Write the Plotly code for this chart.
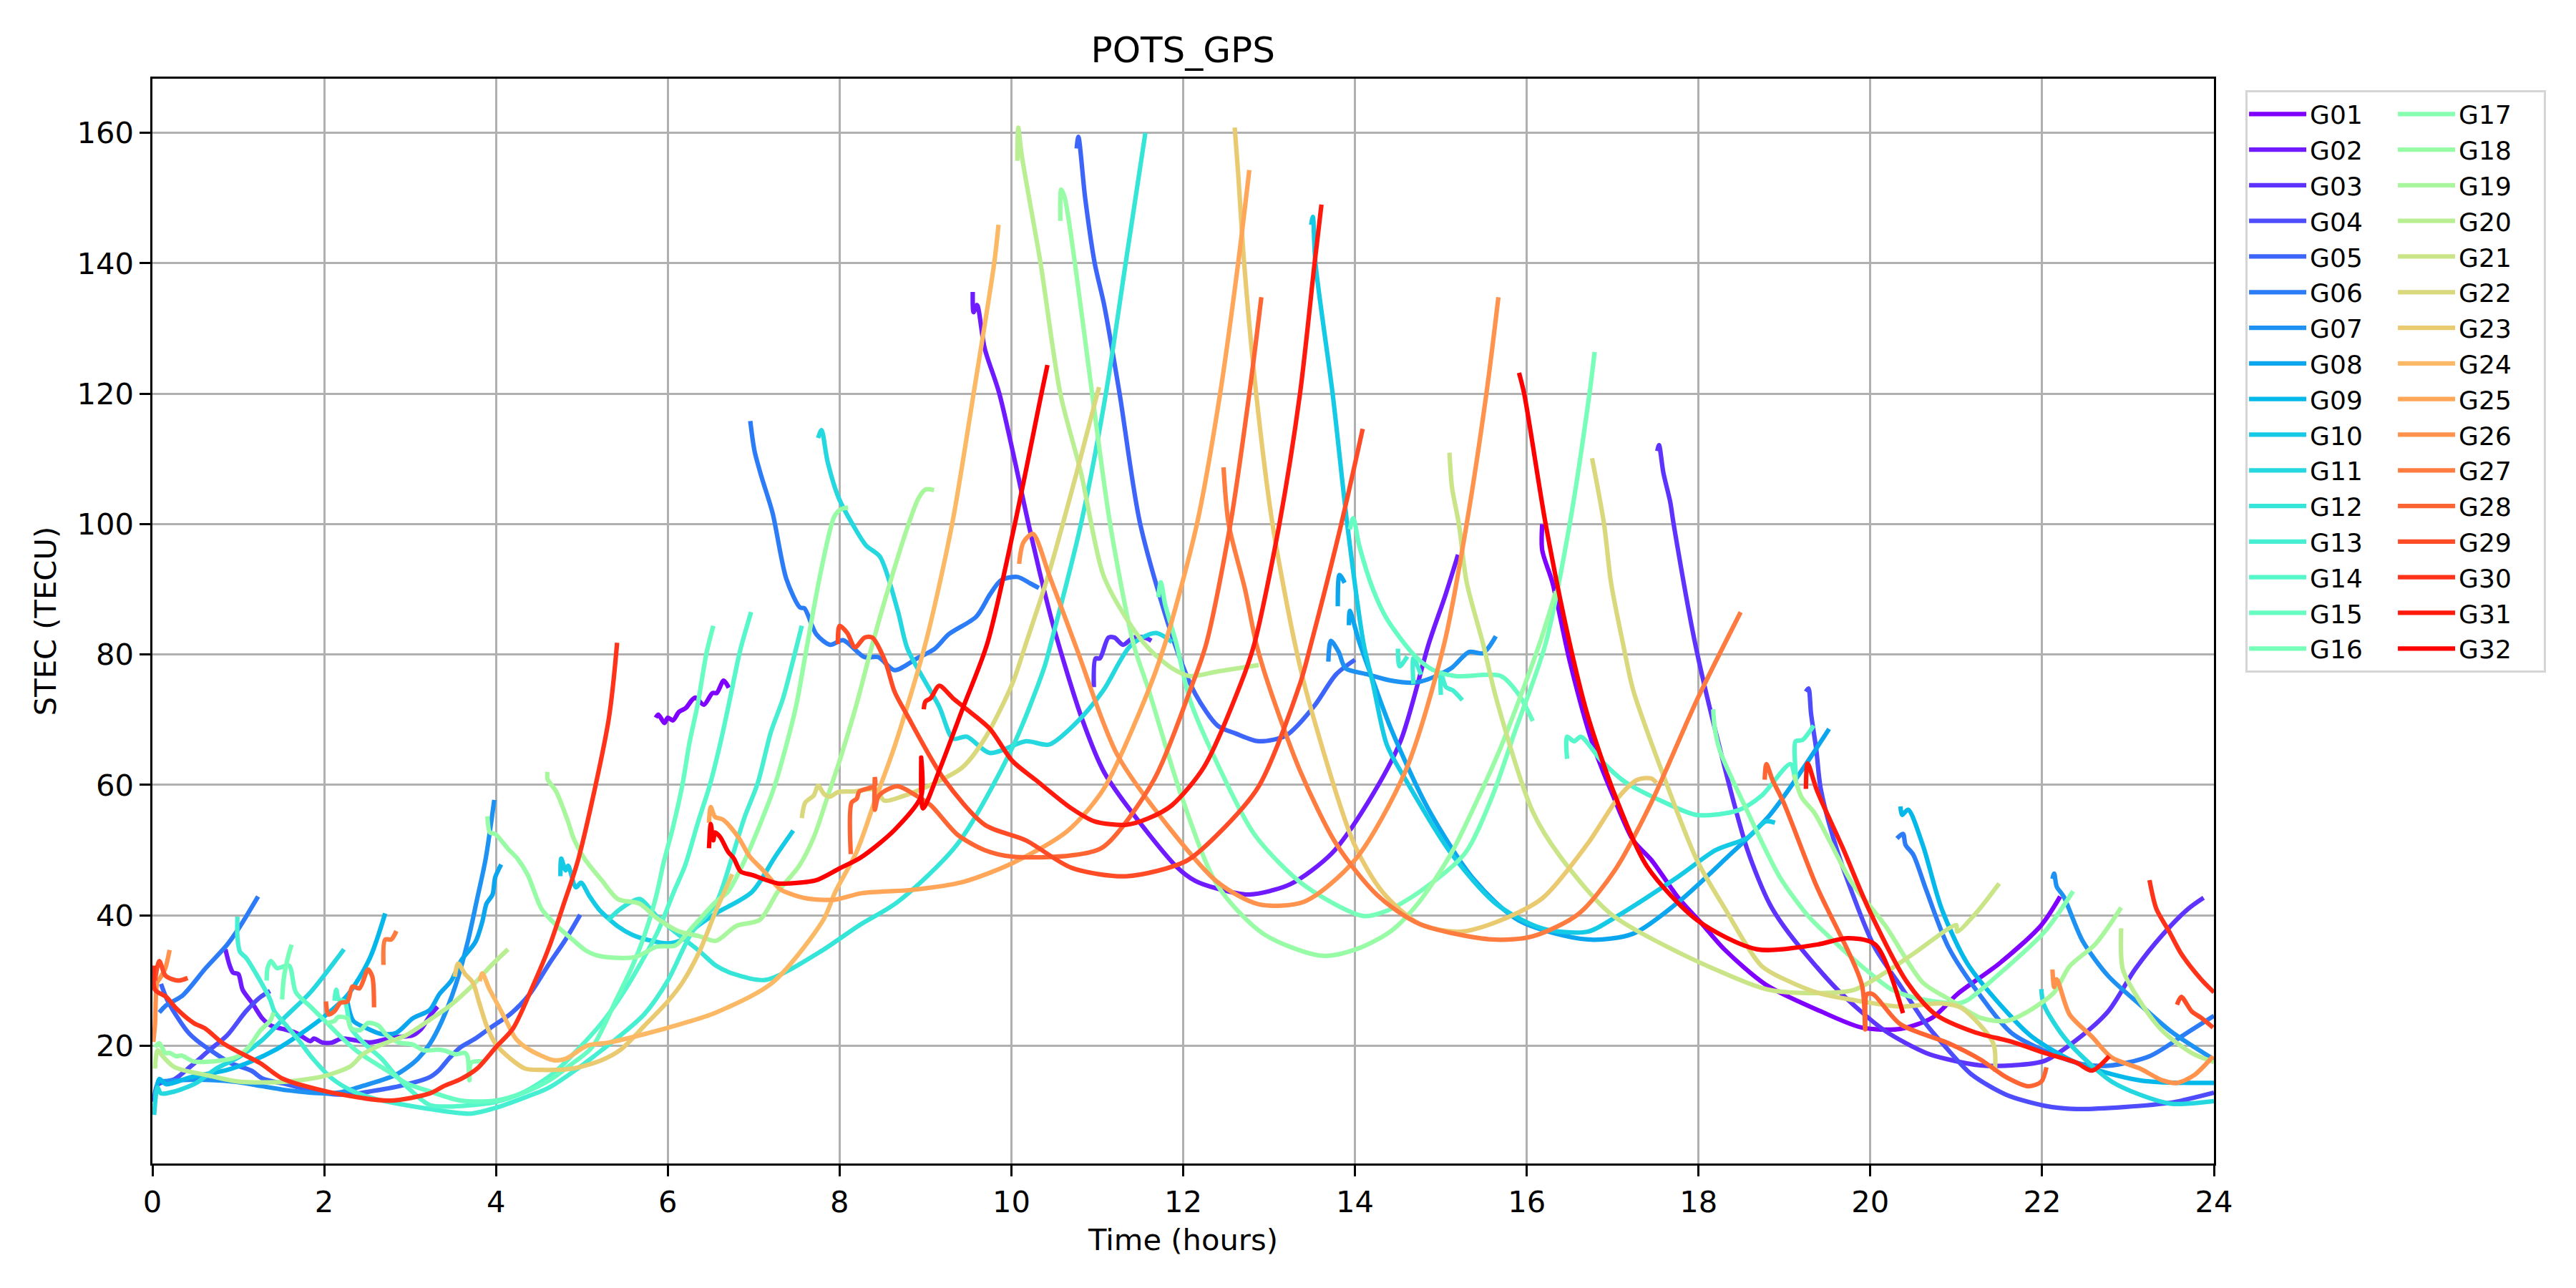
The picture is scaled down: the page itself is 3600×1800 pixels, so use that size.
import plotly.graph_objects as go
import math

# Each list holds (time in hours, STEC in TECU); None separates arcs.
G01 = [(5.86,70.3),(5.89,70.8),(5.96,69.5),(6.0,70.3),(6.06,69.9),(6.13,71.2),(6.21,71.8),(6.28,73),(6.32,73.4),(6.42,72.3),(6.52,74.1),(6.57,74.1),(6.65,76),(6.71,74.9),None,
 (16.18,100),(16.18,96),(16.3,91),(16.5,79),(16.75,67),(17.0,58.5),(17.24,51.5),(17.45,48.5),(17.77,42.6),(18.04,38.7),(18.3,34.8),(18.78,29.4),(19.42,25.3),(19.9,22.8),(20.35,22.6),(20.72,24.3),(21.02,28),(21.5,32.6),(21.99,38.5),(22.21,42.9)]
G02 = [(0.85,34.8),(0.9,32.3),(0.94,31.2),(1,31),(1.05,28.6),(1.17,26.4),(1.28,24.2),(1.38,23.1),(1.51,22.6),(1.67,22),(1.84,20.7),(1.88,21.1),(1.98,20.5),(2.09,20.5),(2.2,21.1),(2.34,20.9),(2.53,20.5),(2.81,21.3),(3.03,21.6),(3.13,22.6),(3.23,24.6),(3.32,26),None,
 (9.55,135.6),(9.56,132.5),(9.6,133.6),(9.69,126.9),(9.86,120),(10.2,100),(10.33,92.6),(10.49,84.3),(10.81,70.6),(11.07,62.2),(11.34,56.9),(11.92,47.5),(12.14,45.3),(12.4,44.1),(12.77,43.2),(13.25,44.8),(13.73,49.5),(14.15,57.3),(14.53,66.7),(14.86,81.7),(15.05,89),(15.2,95.3)]
G03 = [(10.96,75),(10.98,79.4),(11.03,79.4),(11.13,82.6),(11.2,82.6),(11.3,81.5),(11.42,82.6),(11.55,82.6),(11.63,82.1),None,
 (17.52,111.2),(17.54,112.1),(17.59,107.9),(17.67,103.4),(17.71,100),(17.96,81.7),(18.2,68.1),(18.57,50),(18.83,41.7),(19.05,37.3),(19.61,28.7),(20.17,22.3),(20.65,18.9),(20.91,17.9),(21.28,17),(21.65,17),(22.03,17.7),(22.4,20.9),(22.77,25.3),(23.08,31.7),(23.4,37),(23.7,41),(23.88,42.7)]
G04 = [(0.02,11.4),(0.06,14),(0.26,14.9),(0.45,16.9),(0.67,19.4),(0.87,21.6),(1.09,25.3),(1.26,27.5),(1.37,28.4),None,
 (19.25,74.3),(19.28,74.8),(19.31,70.9),(19.37,65.5),(19.42,59.6),(19.57,51.8),(19.79,43.4),(20.05,35.1),(20.35,29.2),(20.65,23.3),(20.87,19.9),(21.17,15.7),(21.58,12.5),(22.03,10.8),(22.4,10.3),(22.95,10.6),(23.51,11.3),(24,12.8)]
G05 = [(0.1,29.5),(0.17,27.1),(0.28,24.6),(0.42,22),(0.51,20.9),(0.7,19.1),(0.92,17.3),(1.15,16.2),(1.28,15),(1.56,14.1),(2.01,12.7),(2.26,12.5),(2.53,13),(2.87,13.8),(3.23,15.2),(3.34,16.3),(3.45,18),(3.59,19.8),(3.76,21.1),(3.95,22.9),(4.17,24.9),(4.39,27.9),(4.62,32.6),(4.81,36.3),(4.98,40.1),None,
 (10.76,157.6),(10.78,159.4),(10.86,149.9),(10.97,140),(11.08,133.6),(11.26,120),(11.5,100),(11.9,81.7),(12.14,74),(12.4,69.1),(12.61,67.9),(12.88,66.7),(13.2,67.6),(13.52,72),(13.78,76.95),(14,79.2)]
G06 = [(0.08,25.1),(0.16,26.2),(0.35,27.7),(0.62,31.9),(0.87,35.5),(1.01,38.1),(1.23,42.9),None,
 (6.96,115.8),(7.01,111.2),(7.09,107.3),(7.22,101.7),(7.38,91.6),(7.54,87.2),(7.59,87.1),(7.73,83.1),(7.89,81.5),(8.04,82.2),(8.29,79.6),(8.45,79.6),(8.64,77.6),(8.9,79.4),(9.11,80.9),(9.27,83.1),(9.59,85.8),(9.75,89.2),(9.88,91.4),(10.07,91.9),(10.22,90.9),(10.32,90.2),None,
 (20.31,51.8),(20.38,52.5),(20.41,50.8),(20.5,49.3),(20.65,43.9),(20.91,35.1),(21.28,27.7),(21.65,21.9),(22.4,17.4),(22.77,16.95),(23.25,18.4),(23.7,22.1),(24,24.6)]
G07 = [(0.05,14.5),(0.5,14.8),(0.95,14.5),(1.28,13.8),(1.56,13.2),(2.01,12.7),(2.2,12.9),(2.39,13.6),(2.81,15.4),(2.95,16.5),(3.09,18),(3.23,20.3),(3.37,23.8),(3.53,29.3),(3.67,35.9),(3.78,42.5),(3.88,48.7),(3.98,57.7),None,
 (13.69,78.9),(13.72,82.1),(13.81,80.4),(13.89,77.9),(14.15,76.95),(14.42,76),(14.69,75.7),(14.85,76.2),(15.12,77.9),(15.33,80.4),(15.49,80.2),(15.64,82.8),None,
 (22.12,45.6),(22.14,46.4),(22.17,44.4),(22.25,42.9),(22.47,36.1),(22.77,30.7),(23.14,26.3),(23.51,22.1),(24,17.9)]
G08 = [(2.27,26.8),(2.34,23.8),(2.51,22.6),(2.67,21.8),(2.84,22),(3.03,24.2),(3.23,25.5),(3.34,27.9),(3.48,30),(3.59,33),(3.76,35.9),(3.84,39),(3.89,41.8),(3.96,43.2),(3.99,45.8),(4.06,47.8),None,
 (13.8,87.4),(13.82,92.2),(13.88,91),None,
 (13.93,84.5),(13.94,86.7),(14.05,81.9),(14.21,76),(14.42,68.6),(14.85,56.4),(15.38,45.6),(15.91,39.2),(16.71,36.3),(17.24,37.2),(17.77,42.1),(18.3,48.5),(18.83,55.4),(19.52,68.6)]
G09 = [(0.03,12),(0.08,14.9),(0.16,14.1),(0.45,15.2),(0.87,16.3),(1.15,17.6),(1.45,19.5),(1.7,21.6),(2.01,24.6),(2.28,27.9),(2.53,33.4),(2.71,40.3),None,
 (20.35,56.7),(20.37,55.4),(20.44,56.2),(20.61,50.8),(20.83,41),(21.13,32.6),(21.58,25.3),(21.88,21.4),(22.4,17.4),(23.14,14.7),(24,14.3)]
G10 = [(4.75,46),(4.76,48.7),(4.81,46.9),(4.84,47.6),(4.93,44.3),(4.99,45),(5.09,42.9),(5.2,40.9),(5.42,38.3),(5.59,37),(5.81,36.1),(6,35.7),(6.17,36.3),(6.34,38.3),(6.56,40.3),(6.98,43.6),(7.25,49),(7.46,53),None,
 (13.49,145.9),(13.51,147.1),(13.54,140),(13.74,120),(13.91,100),(14.1,81.7),(14.21,75.5),(14.37,66.2),(14.59,60.8),(15.12,49.5),(15.65,41.7),(16.18,38),(16.71,37.5),(17.03,39.7),(17.77,46),(18.2,50),(18.57,51.9),(18.78,54.4),(18.89,54.2)]
G11 = [(0.02,9.4),(0.06,13.6),(0.1,12.7),(0.26,13),(0.51,14.3),(0.73,16.4),(1.01,18.3),(1.28,20.9),(1.56,24.6),(1.84,28.2),(2.23,34.8),None,
 (7.75,113.2),(7.79,114.4),(7.86,109.6),(7.99,104),(8.15,100),(8.31,96.7),(8.47,95),(8.68,86.6),(8.79,80.9),(9.16,72),(9.32,67.1),(9.48,67.4),(9.75,64.9),(10.17,66.7),(10.44,66.2),(10.76,69.6),(11.07,74.5),(11.39,81.4),(11.68,83.3),(11.87,81.9),None,
 (21.99,28.7),(22.02,26.3),(22.25,21.4),(22.58,16.95),(22.81,14.5),(23.14,12.5),(23.51,11.1),(24,11.5)]
G12 = [(5.3,39.2),(5.45,41),(5.67,42.5),(5.87,39.9),(6.09,37.4),(6.37,34.5),(6.56,32.3),(6.75,31.1),(7.14,30.1),(7.76,34.3),(8.22,38.4),(8.68,42.1),(9.37,50.9),(10.01,65.7),(10.38,77.9),(10.46,81.7),(10.81,100),(11.1,120),(11.33,140),(11.56,160)]
G13 = [(0.99,39.8),(0.99,36.6),(1.02,34.4),(1.09,33.5),(1.2,31.2),(1.37,27.1),(1.42,25.3),(1.56,23.1),(1.7,20.9),(1.87,18),(2.09,15),(2.34,13),(2.67,11.6),(2.95,10.9),(3.23,10.3),(3.7,9.6),(4,10.5),(4.34,12.1),(4.62,13.6),(4.95,16.5),(5.17,18.7),(5.45,21.6),(5.73,24.9),(6,30),(6.28,37.4),(6.56,41.8),(6.75,49),(6.89,54.9),(7.05,60.4),(7.2,68.1),(7.34,73.2),(7.48,80.2),(7.56,84.4),None,
 (14.5,80.9),(14.52,78.2),(14.61,79.7),None,(14.68,75.5),(14.68,79.4),(14.77,76.9),None,(15,73.8),(15,77.2),(15.06,75),(15.14,74.5),(15.25,73)]
G14 = [(2.12,26.9),(2.14,28.6),(2.17,27.1),(2.24,26.8),(2.31,22.7),(2.48,20.2),(2.67,18),(2.81,15.8),(3.03,12.9),(3.23,10.9),(3.5,10.7),(4,11.4),(4.34,13),(4.67,15.8),(4.95,19.4),(5.23,23.5),(5.45,27.5),(5.67,32.3),(5.89,37.7),(6.07,43.6),(6.2,47.6),(6.35,54.2),(6.49,60),(6.61,66.3),(6.73,73.6),(6.84,80.5),(6.97,86.5),None,
 (16.47,64),(16.47,67.4),(16.55,66.7),(16.63,67.4),(16.87,63.7),(17.14,60.5),(17.56,57.6),(17.98,55.4),(18.46,56.1),(18.73,58.3),(19.07,63.2),(19.13,60.8),(19.13,66.7),(19.21,66.9),(19.34,69.1)]
G15 = [(1.33,30),(1.34,31.9),(1.38,33),(1.45,31.9),(1.59,32.3),(1.67,28.2),(1.84,26),(2.01,23.8),(2.2,21.3),(2.39,19.1),(2.56,17.6),(2.78,15.8),(2.95,14.3),(3.23,13),(3.59,11.6),(4,11.6),(4.34,12.9),(4.62,14.7),(4.89,17.3),(5.12,19.8),(5.39,26.8),(5.59,32.3),(5.73,37),(5.87,43.2),(5.95,48),(6.06,53.5),(6.17,60),(6.25,66.3),(6.35,72.5),(6.45,80.2),(6.53,84.4),None,
 (13.94,99.2),(13.98,100.9),(14.05,96.7),(14.21,90),(14.37,85.5),(14.69,79.9),(14.9,77.7),(15.17,76.7),(15.7,76.7),(15.91,73.8),(16.07,69.8)]
G16 = [(1.51,27.1),(1.53,30.4),(1.58,33.7),(1.62,35.5),None,
 (11.71,88.8),(11.74,91.1),(11.79,87.7),(11.92,81.7),(12.08,73),(12.4,63.2),(12.83,52.4),(13.41,44.6),(14.1,39.9),(14.37,40.7),(14.75,43.6),(15.28,49.5),(15.6,58.3),(15.86,68.1),(16.22,81.7),(16.5,100),(16.73,120),(16.79,126.4)]
G17 = [(2.03,23.5),(2.12,23.8),(2.16,24.4),(2.27,24.2),(2.31,22.7),(2.42,22.4),(2.51,23.5),(2.63,23.1),(2.73,21.6),(2.87,20.5),(3.03,20.2),(3.16,19.3),(3.31,19.4),(3.39,19.3),(3.53,18.7),(3.64,18.9),(3.67,18.3),(3.69,14.7),(3.71,17.4),(3.84,17.6),None,
 (18.17,71.6),(18.19,68.6),(18.25,65.2),(18.57,55.9),(18.94,46),(19.27,40),(19.53,36.6),(19.9,32.2),(20.24,28.7),(20.54,27.3),(21.02,26.5),(21.13,27),(21.43,30.2),(22.03,37.5),(22.36,43.7)]
G18 = [(0.03,19.8),(0.08,20.4),(0.15,18.9),(0.2,18.9),(0.28,18.4),(0.34,18.5),(0.48,17.6),(0.78,17.7),(0.98,18.3),(1.12,19.8),(1.26,22.4),(1.37,23.8),(1.41,25.1),None,
 (3.9,55.2),(3.93,52.7),(3.99,52.5),(4.14,50.2),(4.25,48.7),(4.37,46.2),(4.53,41),(4.7,38.5),(4.89,36.3),(5.06,34.5),(5.23,33.7),(5.62,33.6),(5.87,35.2),(6.09,35.4),(6.28,38.1),(6.56,42.1),(6.7,43.6),(6.89,48.3),(7.06,53.5),(7.23,59.3),(7.39,66.6),(7.5,72.5),(7.6,79.8),(7.7,87.1),(7.78,92.6),(7.94,101.2),(8.02,102.3),(8.1,102.5),None,
 (10.57,146.5),(10.58,151.3),(10.62,150.1),(10.74,140),(10.94,120),(11.15,100),(11.42,81.7),(11.6,74.5),(11.98,58.3),(12.4,44.6),(12.93,37.2),(13.62,33.8),(14.055,35),(14.43,37.7),(14.75,42.1),(15.12,49.5),(15.41,57.3),(15.68,65.2),(15.91,73),(16.15,81.7),(16.34,89.7)]
G19 = [(4.6,62),(4.6,60.9),(4.7,59),(4.83,54.7),(4.91,51.6),(5.03,48.7),(5.23,45.4),(5.42,42.5),(5.67,41.8),(5.87,39.6),(6.12,37.6),(6.37,36.8),(6.56,36.1),(6.8,38.4),(7.07,39.3),(7.28,43.6),(7.53,47.6),(7.7,52),(7.86,58.2),(8,63.7),(8.2,72.5),(8.36,80.5),(8.5,87.1),(8.79,99.5),(8.92,104),(9,105.3),(9.1,105.2),None,
 (19.11,61.6),(19.2,58.1),(19.35,55.7),(19.53,51.3),(19.79,44.9),(20.17,38.5),(20.61,29.7),(20.91,27.2),(21.28,24.3),(21.58,23.8),(21.84,25.3),(22.14,28.2),(22.32,32.2),(22.62,35.6),(22.92,41.2)]
G20 = [(0.03,16.5),(0.06,19.3),(0.12,18.4),(0.26,16.7),(0.67,15.4),(1.01,14.5),(1.56,14.5),(2.01,15.4),(2.31,16.9),(2.45,18.7),(2.67,20.2),(2.95,21.6),(3.23,24),(3.45,26),(3.73,29.3),(3.95,32.4),(4.14,34.8),None,
 (10.07,155.7),(10.08,160.8),(10.12,156.6),(10.34,140),(10.57,120),(10.81,107.9),(11.07,92.2),(11.34,85.5),(11.6,80.9),(11.87,77.9),(12.08,76.7),(12.4,77.4),(12.88,78.4),None,
 (22.92,38),(22.94,31.7),(23.14,26.8),(23.4,22.3),(23.74,18.9),(24,17.5)]
G21 = [(15.1,110.95),(15.13,105.6),(15.21,100),(15.3,91.1),(15.49,81.7),(15.65,73),(16.07,55.9),(16.39,49),(16.98,40.2),(17.77,34.3),(18.73,28.9),(19.05,28.2),(19.79,28.5),(20.17,31.2),(20.5,34.1),(21,38.5),(21.01,37.5),(21.24,40.5),(21.5,44.9)]
G22 = [(7.56,54.9),(7.6,57.3),(7.7,58.4),(7.75,59.9),(7.82,58.6),(7.89,58.2),(7.98,58.9),(8.17,59),(8.42,59.3),(8.52,57.6),(8.74,58.3),(9.11,60.3),(9.43,62.7),(9.69,67.1),(10.01,75.5),(10.17,81.7),(10.44,92.6),(10.76,107.9),(11.02,121),None,
 (16.76,110.1),(16.9,100),(16.98,91.1),(17.12,81.7),(17.24,74.5),(17.61,60.8),(17.98,48.5),(18.3,41.2),(18.73,32.3),(19.05,29.9),(19.42,28),(19.9,26.8),(20.35,26),(20.84,26.5),(21.06,25.8),(21.43,20.4),(21.45,16)]
G23 = [(3.52,30.6),(3.56,32.6),(3.64,31),(3.73,29.7),(3.8,26.8),(3.89,23.1),(4,20.2),(4.17,18),(4.34,16.5),(4.53,16.3),(4.89,16.5),(5.23,17.8),(5.45,19.4),(5.73,23.1),(6,26.8),(6.17,29.7),(6.37,34.5),(6.56,40.7),(6.75,46.3),None,
 (12.6,160.8),(12.64,153.8),(12.71,140),(12.85,120),(13.04,100),(13.3,81.7),(13.46,73),(13.99,50.97),(14.32,43.6),(14.75,38.7),(15.22,37.5),(15.65,39),(16.18,42.6),(16.71,51),(17.08,58.3),(17.29,60.8),(17.45,61),(17.51,60.3)]
G24 = [(3.81,29.9),(3.84,31.1),(3.92,28.8),(4,26.8),(4.12,23.8),(4.23,21.1),(4.39,19.4),(4.67,17.8),(4.81,18),(5.06,20),(5.31,20.5),(5.73,21.8),(6.14,23.3),(6.56,25.1),(7.22,29.7),(7.81,39.3),(7.95,43.6),(8.2,49.8),(8.42,57.9),(8.64,65.9),(9,81.7),(9.31,100),(9.56,120),(9.8,140),(9.85,145.9)]
G25 = [(6.48,54.2),(6.5,56.6),(6.55,55.1),(6.64,54.7),(6.82,52),(6.95,49.1),(7.11,46.9),(7.31,44),(7.45,43.2),(7.62,42.6),(7.94,42.4),(8.26,43.4),(8.84,43.9),(9.43,45.1),(10.01,48),(10.65,52.9),(11.07,59.3),(11.55,73),(11.79,81.7),(12.16,100),(12.43,120),(12.64,140),(12.77,154.3)]
G26 = [(0.01,20.6),(0.03,23.3),(0.055,29.7),(0.09,30.4),(0.15,31.9),(0.2,34.7),None,
 (10.09,93.9),(10.14,97.2),(10.25,98.5),(10.44,92.2),(10.76,80.9),(11.23,64.7),(11.87,52.9),(12.4,45.1),(12.88,41.7),(13.41,42.1),(14,48.5),(14.59,62.2),(15.04,81.7),(15.3,100),(15.53,120),(15.67,134.8),None,
 (22.12,31.7),(22.14,29),(22.17,30.2),(22.32,24.8),(22.58,21.4),(22.81,18.2),(23.14,16.5),(23.4,14.7),(23.57,14.3),(23.77,15.5),(23.99,18.4)]
G27 = [(2.69,32.4),(2.71,36.3),(2.78,36.3),(2.84,37.6),None,
 (12.47,108.7),(12.53,100),(12.72,90),(12.85,81.7),(12.99,75.5),(13.36,62.2),(13.78,51),(14.26,43.1),(14.75,38.7),(15.6,36.3),(16.07,36.8),(16.6,40.2),(17.03,47),(17.45,57.3),(17.98,73),(18.49,86.5)]
G28 = [(2.02,26.8),(2.05,24.8),(2.12,25.3),(2.19,26.6),(2.27,26.8),(2.33,29.1),(2.41,28.8),(2.51,31.7),(2.56,30.6),(2.58,25.9),None,
 (8.13,49.4),(8.14,57.3),(8.2,57.9),(8.23,59),(8.41,59.9),(8.41,61.2),(8.41,56.2),(8.45,58.2),(8.53,59.1),(8.68,59.8),(8.9,58.3),(9.06,56.9),(9.37,52.4),(9.69,50),(10.01,49),(10.7,49.2),(11.07,50.5),(11.66,60.8),(12.08,74.5),(12.27,81.7),(12.55,100),(12.77,120),(12.91,134.8),None,
 (18.77,60.8),(18.79,63.2),(18.86,60.8),(18.99,57.3),(19.37,44.6),(19.9,29.4),(19.94,22.5),(19.96,27.9),(20.03,27.9),(20.35,23.3),(20.91,20.4),(21.28,17.9),(21.58,15.2),(21.84,13.8),(21.99,14.5),(22.05,16.7)]
G29 = [(0.03,30),(0.08,33),(0.15,30.8),(0.23,30.2),(0.31,30),(0.41,30.4),None,
 (7.98,81.6),(8,84.4),(8.09,83.3),(8.18,81.1),(8.29,82.6),(8.38,82.6),(8.53,79),(8.64,74.3),(8.79,70.6),(9.22,60.8),(9.69,53.9),(10.17,51.5),(10.7,47.3),(11.34,46),(12.03,48.3),(12.4,52.4),(12.88,59.8),(13.36,75.5),(13.49,81.7),(13.84,100),(14.09,114.6),None,
 (23.57,26.3),(23.62,27.5),(23.74,25.3),(23.85,24.3),(23.99,22.8)]
G30 = [(0.02,32.3),(0.03,28.6),(0.16,27.5),(0.28,25.7),(0.48,23.5),(0.62,22.6),(0.81,20.5),(1.01,19),(1.26,17.3),(1.51,15),(2.06,12.9),(2.76,11.6),(3.23,12.7),(3.39,13.8),(3.59,14.9),(3.78,16.5),(4,19.8),(4.2,22.7),(4.42,28.9),(4.62,35.2),(4.78,41.4),(4.96,48.7),(5.31,69.9),(5.41,81.8),None,
 (23.25,45.4),(23.33,41),(23.48,37.5),(23.62,34.1),(23.85,30.2),(24,28.2)]
G31 = [(8.98,71.6),(9,72.8),(9.06,73.3),(9.16,75.2),(9.32,73.3),(9.48,71.6),(9.75,68.6),(10.01,63.7),(10.28,60.8),(10.7,56.4),(10.97,54.4),(11.34,53.9),(11.6,54.9),(11.87,56.9),(12.24,62.7),(12.67,75.5),(12.83,81.7),(13.12,100),(13.36,120),(13.53,140),(13.61,149),None,
 (19.25,59.4),(19.27,63.3),(19.38,59.1),(19.68,50.3),(19.98,41),(20.43,29.7),(20.76,24.8),(21.21,22.1),(21.65,20.6),(22.03,18.9),(22.4,17.4),(22.58,16.2),(22.78,18.4)]
G32 = [(6.48,50.3),(6.5,54),(6.53,51.5),(6.55,52.7),(6.61,52),(6.7,49.8),(6.77,48.7),(6.85,46.7),(6.98,46.2),(7.28,44.9),(7.42,44.9),(7.73,45.4),(8,47.2),(8.25,48.9),(8.64,53.1),(8.95,58.3),(8.95,64.2),(8.97,56.4),(9.16,62.2),(9.43,71.6),(9.72,81.7),(10.04,100),(10.35,120),(10.42,124.4),None,
 (15.91,123.2),(15.97,120),(16.22,100),(16.5,81.7),(16.71,70.6),(17.03,58.3),(17.4,47.5),(17.99,39.2),(18.68,34.8),(19.37,35.5),(19.74,36.5),(20.06,35.5),(20.38,25)]

SATELLITES = ["G%02d" % i for i in range(1, 33)]
ARCS = [G01,G02,G03,G04,G05,G06,G07,G08,G09,G10,G11,G12,G13,G14,G15,G16,
        G17,G18,G19,G20,G21,G22,G23,G24,G25,G26,G27,G28,G29,G30,G31,G32]
X_TICKS = list(range(0, 25, 2))
Y_TICKS = list(range(20, 161, 20))

def rainbow(t):
    r = min(1.0, abs(2 * t - 0.5))
    g = math.sin(math.pi * t)
    b = math.cos(math.pi * t / 2)
    return "rgb(%d,%d,%d)" % (round(r * 255), round(g * 255), round(b * 255))

fig = go.Figure()
for i, (name, arc) in enumerate(zip(SATELLITES, ARCS)):
    xs = [p[0] if p else None for p in arc]
    ys = [p[1] if p else None for p in arc]
    fig.add_trace(go.Scatter(
        x=xs, y=ys, mode="lines", name=name,
        legendgroup="a" if i < 16 else "b",
        line=dict(color=rainbow(i / 31), width=6.25, shape="spline", smoothing=0.8),
    ))

axis_font = dict(family="DejaVu Sans", size=41.67, color="black")
common = dict(showline=True, mirror=True, linecolor="black", linewidth=3.33,
              showgrid=True, gridcolor="#b0b0b0", gridwidth=3.33, zeroline=False,
              ticks="outside", ticklen=14.6, tickwidth=3.33, tickcolor="black",
              tickfont=axis_font)
fig.update_layout(
    width=3592, height=1792, autosize=False,
    margin=dict(l=204.5, r=506, t=102, b=174, pad=0, autoexpand=False),
    paper_bgcolor="white", plot_bgcolor="white",
    font=dict(family="DejaVu Sans", color="black"),
    title=dict(text="POTS_GPS", x=((212.5 + 3094) / 2 - 8) / 3592, xanchor="center",
               y=1 - 61 / 1792, yanchor="middle", font=dict(size=50, family="DejaVu Sans")),
    xaxis=dict(range=[0, 24], tickvals=X_TICKS, title=dict(text="Time (hours)", font=axis_font, standoff=16), **common),
    yaxis=dict(range=[1.95, 168.3], tickvals=Y_TICKS, title=dict(text="STEC (TECU)", font=axis_font, standoff=16), **common),
    legend=dict(orientation="h", traceorder="grouped", x=1.0153, xanchor="left", y=0.9894, yanchor="top",
                font=dict(size=36, family="DejaVu Sans"), bordercolor="#d5d5d5", borderwidth=3.33,
                bgcolor="white", itemwidth=80, entrywidth=113, entrywidthmode="pixels", tracegroupgap=0),
    showlegend=True,
)
fig.write_html("out.html")
